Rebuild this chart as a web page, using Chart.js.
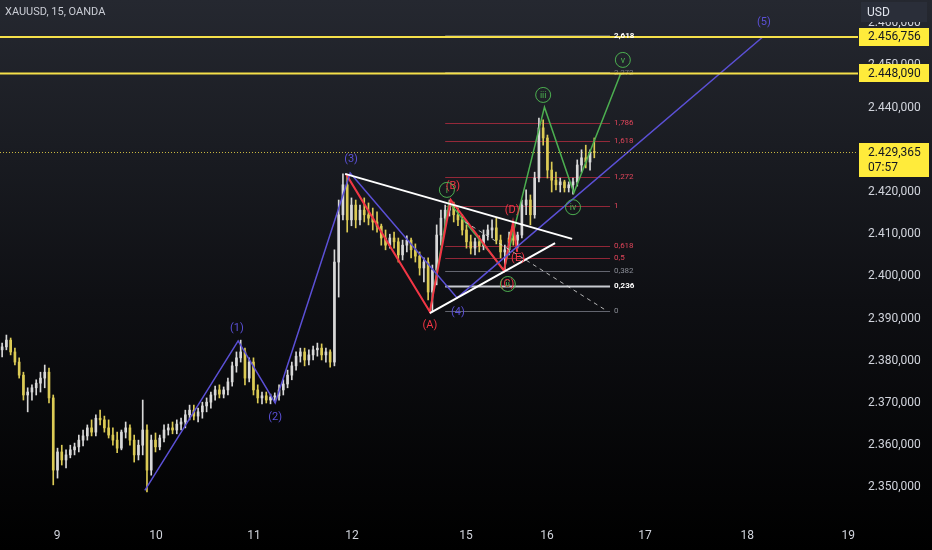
<!DOCTYPE html>
<html><head><meta charset="utf-8">
<script src="https://cdn.jsdelivr.net/npm/chart.js@4.4.1/dist/chart.umd.min.js"></script>
<style>html,body{margin:0;padding:0;background:#000;overflow:hidden}#wrap{width:932px;height:550px}</style>
</head><body><div id="wrap"><canvas id="c" width="932" height="550"></canvas></div>
<script>
// ---------- DATA ----------
const title = 'XAUUSD, 15, OANDA';
const currency = 'USD';
// x axis: hourly bar index; day labels positioned at the bar index where each day begins
const dayTickPos = [13.4, 36.6, 59.6, 82.6, 109.4, 128.4, 151.4, 175.4, 199.1];
const dayTickLabels = ['9', '10', '11', '12', '15', '16', '17', '18', '19'];
const yTickStep = 10;

const candleOpen = [2382.6,2383.3,2384.9,2382.1,2379.7,2376.6,2371.9,2372.6,2373.6,2374.7,2375.9,2377.3,2371.2,2354.1,2358.4,2356.5,2357.7,2358.9,2359.6,2361.2,2362.2,2364.1,2363.1,2366.4,2366.0,2364.1,2362.4,2361.2,2359.3,2363.1,2364.1,2361.2,2357.7,2360.0,2363.6,2354.1,2361.2,2359.6,2361.7,2363.6,2364.1,2363.6,2365.0,2365.5,2367.2,2368.3,2366.9,2367.9,2369.3,2370.2,2371.9,2373.1,2372.1,2373.1,2375.0,2378.8,2380.7,2382.1,2375.9,2379.7,2373.1,2371.2,2371.7,2370.7,2371.4,2371.7,2373.1,2374.5,2376.6,2378.8,2381.1,2382.1,2380.2,2381.4,2382.6,2383.0,2381.4,2382.1,2379.7,2403.4,2414.6,2421.7,2413.4,2416.9,2413.4,2415.7,2414.6,2413.8,2412.9,2411.9,2409.1,2407.4,2409.1,2408.2,2405.1,2407.4,2408.6,2406.3,2404.8,2402.0,2403.4,2396.3,2401.5,2409.8,2413.8,2415.7,2416.9,2414.6,2413.4,2411.0,2408.2,2406.7,2408.2,2407.2,2409.8,2411.0,2411.5,2408.6,2405.8,2406.3,2409.1,2408.6,2409.8,2416.9,2418.1,2414.6,2423.3,2435.2,2432.8,2425.2,2422.8,2421.7,2422.4,2421.0,2421.7,2422.4,2426.4,2428.1,2427.1,2429.5];
const candleHigh = [2384.2,2386.1,2385.4,2383.0,2380.7,2377.3,2373.6,2374.3,2375.5,2377.3,2379.0,2378.3,2371.9,2359.3,2360.0,2358.9,2360.0,2360.5,2362.4,2363.6,2364.8,2366.0,2367.2,2368.3,2366.9,2366.0,2364.1,2363.1,2363.6,2365.5,2364.8,2362.4,2361.2,2370.7,2364.8,2362.4,2362.9,2362.4,2364.8,2365.0,2365.5,2366.0,2366.4,2368.3,2369.5,2369.5,2368.8,2370.2,2371.2,2372.6,2374.0,2374.3,2373.8,2375.9,2379.7,2382.1,2384.9,2383.0,2380.7,2380.7,2374.3,2372.6,2372.6,2372.1,2372.4,2374.3,2375.5,2377.8,2379.7,2382.1,2383.0,2383.0,2382.6,2383.5,2384.2,2384.0,2383.0,2382.6,2406.3,2418.1,2424.3,2423.8,2418.6,2418.1,2416.9,2418.6,2417.4,2416.2,2415.3,2412.4,2411.0,2410.0,2410.5,2409.1,2408.6,2409.6,2409.1,2407.7,2405.8,2404.4,2404.4,2402.7,2412.2,2415.7,2416.9,2418.1,2417.6,2416.2,2414.6,2412.2,2409.8,2409.1,2409.6,2411.0,2412.2,2413.4,2413.8,2409.8,2407.4,2410.5,2412.9,2410.5,2418.1,2420.5,2419.3,2424.7,2437.5,2437.1,2433.5,2427.1,2424.7,2423.3,2422.8,2422.4,2423.3,2427.6,2430.0,2431.1,2430.0,2432.8];
const candleLow = [2380.9,2382.6,2381.4,2379.0,2375.9,2370.7,2367.9,2370.7,2371.9,2372.6,2373.6,2370.0,2350.6,2352.2,2355.3,2354.6,2357.0,2357.7,2358.4,2359.8,2361.2,2362.2,2362.2,2364.8,2363.1,2361.7,2360.0,2358.2,2358.9,2361.7,2360.0,2356.0,2356.5,2357.7,2348.9,2352.9,2358.4,2358.9,2360.8,2362.4,2362.7,2362.7,2363.6,2364.1,2366.0,2366.0,2365.5,2366.4,2367.9,2368.8,2370.7,2371.2,2371.2,2371.9,2374.0,2377.3,2379.7,2374.3,2375.0,2371.9,2370.0,2369.8,2370.0,2369.8,2370.2,2370.7,2371.9,2373.6,2375.5,2377.8,2379.7,2378.8,2379.0,2380.2,2381.1,2380.2,2379.7,2378.5,2378.8,2395.1,2413.4,2410.5,2412.0,2411.5,2412.2,2412.9,2412.2,2411.0,2410.5,2407.4,2406.3,2406.7,2406.7,2403.4,2403.9,2405.8,2404.4,2403.4,2400.3,2398.7,2394.4,2391.6,2398.0,2407.4,2411.5,2414.3,2412.9,2412.0,2409.8,2406.7,2405.3,2405.1,2405.8,2406.3,2408.6,2409.1,2407.7,2404.4,2401.5,2405.1,2407.4,2406.7,2409.1,2414.6,2412.2,2413.8,2422.4,2431.1,2423.3,2420.0,2420.5,2420.0,2420.0,2420.0,2419.5,2421.4,2424.7,2425.7,2425.2,2428.1];
const candleClose = [2383.3,2384.9,2382.1,2379.7,2376.6,2371.9,2372.6,2373.6,2374.7,2375.9,2377.3,2371.2,2354.1,2358.4,2356.5,2357.7,2358.9,2359.6,2361.2,2362.2,2364.1,2363.1,2366.4,2366.0,2364.1,2362.4,2361.2,2359.3,2363.1,2364.1,2361.2,2357.7,2360.0,2363.6,2354.1,2361.2,2359.6,2361.7,2363.6,2364.1,2363.6,2365.0,2365.5,2367.2,2368.3,2366.9,2367.9,2369.3,2370.2,2371.9,2373.1,2372.1,2373.1,2375.0,2378.8,2380.7,2382.1,2375.9,2379.7,2373.1,2371.2,2371.7,2370.7,2371.4,2371.7,2373.1,2374.5,2376.6,2378.8,2381.1,2382.1,2380.2,2381.4,2382.6,2383.0,2381.4,2382.1,2379.7,2403.4,2414.6,2421.7,2413.4,2416.9,2413.4,2415.7,2414.6,2413.8,2412.9,2411.9,2409.1,2407.4,2409.1,2408.2,2405.1,2407.4,2408.6,2406.3,2404.8,2402.0,2403.4,2396.3,2401.5,2409.8,2413.8,2415.7,2416.9,2414.6,2413.4,2411.0,2408.2,2406.7,2408.2,2407.2,2409.8,2411.0,2411.5,2408.6,2405.8,2406.3,2409.1,2408.6,2409.8,2416.9,2418.1,2414.6,2423.3,2435.2,2432.8,2425.2,2422.8,2421.7,2422.4,2421.0,2421.7,2422.4,2426.4,2428.1,2427.1,2429.5,2429.365];

// horizontal price levels and last price
const hLevels = [2456.756, 2448.090];
const lastPrice = 2429.365;
const countdown = '07:57';

// Fibonacci retracement (0 = A low, 1 = B high)
const fibLow = 2391.87, fibHigh = 2416.75;
const fibLevels = [0, 0.236, 0.382, 0.5, 0.618, 1, 1.272, 1.618, 1.786, 2.272, 2.618];
const fibStartX = 104.5, fibEndX = 143.2;

// wave drawings: [barIndex, price]
const wavePurple = [[34.0,2349.3],[55.9,2384.7],[64.6,2370.0],[82.2,2424.5],[107.3,2394.9],[179.1,2456.8]];
const waveRed = [[81.2,2424.3],[100.9,2391.6],[105.8,2418.1],[118.3,2401.3],[120.4,2412.7],[121.4,2405.8]];
const waveGreen = [[100.9,2391.6],[105.4,2417.6],[118.3,2401.5],[127.8,2440.1],[134.7,2419.8],[145.7,2448.1]];
const waveOrange = [[119.4,2408.2],[120.5,2412.4]];
const triUpper = [[81.0,2424.3],[134.3,2408.9]];
const triLower = [[100.9,2391.3],[130.3,2407.9]];
const dashLine = [[109.2,2412.9],[142.5,2391.8]];

const purpleLabels = [['(1)',55.6,2387.8],['(2)',64.6,2366.7],['(3)',82.4,2427.8],['(4)',107.5,2391.6],['(5)',179.3,2460.3]];
const redLabels = [['(A)',100.9,2388.5],['(B)',106.3,2421.4],['(C)',119.0,2398.2],['(D)',120.2,2415.7],['(E)',121.6,2404.4]];
const greenLabels = [['i',104.9,2420.5],['ii',119.2,2398.2],['iii',127.5,2443.0],['iv',134.5,2416.4],['v',146.2,2451.3]];

// ---------- STYLE ----------
const UP = '#d8d8d8', DOWN = '#dccb55';
const PURPLE = '#5b50d6', RED = '#f23645', GREEN = '#4caf50', YELLOW = '#f5e04a';
const FONT = 'Roboto, "Liberation Sans", sans-serif';

function fmt(v, d) {
  const s = v.toFixed(d);
  const parts = s.split('.');
  return parts[0].replace(/\B(?=(\d{3})+(?!\d))/g, '.') + (parts[1] ? ',' + parts[1] : '');
}
function fibText(l) { return String(l).replace('.', ','); }
const toPts = arr => arr.map(p => ({x: p[0], y: p[1]}));
const isUp = i => candleClose[i] >= candleOpen[i];

const xs = candleOpen.map((_, i) => i + 0.5);
const wickData = xs.map((x, i) => ({x, y: [candleLow[i], candleHigh[i]]}));
const bodyData = xs.map((x, i) => ({x, y: [candleOpen[i], candleClose[i]]}));

function lineDs(arr, color, width, dash) {
  return {type: 'line', data: toPts(arr), borderColor: color, borderWidth: width, borderDash: dash || [],
    pointRadius: 0, tension: 0, order: 1, fill: false};
}

const bgPlugin = {
  id: 'bg',
  beforeDraw(chart) {
    const c = chart.ctx;
    const g = c.createLinearGradient(0, 0, 0, chart.height);
    g.addColorStop(0, '#252830');
    g.addColorStop(0.55, '#0e0f13');
    g.addColorStop(1, '#000000');
    c.save(); c.fillStyle = g; c.fillRect(0, 0, chart.width, chart.height); c.restore();
  }
};

function fibStyle(l) {
  if (l === 0.236) return {line: '#c8cad0', w: 2, text: '#ffffff', bold: true};
  if (l === 0.382 || l === 0) return {line: 'rgba(120,123,134,0.8)', w: 1, text: '#8a8d96', bold: false};
  if (l === 2.618) return {line: '#ffffff', w: 1.5, text: '#ffffff', bold: true};
  if (l === 2.272) return {line: 'rgba(120,123,134,0.8)', w: 1, text: '#787b86', bold: false};
  return {line: 'rgba(190,45,65,0.75)', w: 1, text: '#e0455a', bold: false};
}

const drawPlugin = {
  id: 'drawings',
  beforeDatasetsDraw(chart) {
    const c = chart.ctx, X = chart.scales.x, Y = chart.scales.y;
    c.save();
    const x0 = X.getPixelForValue(fibStartX), x1 = X.getPixelForValue(fibEndX);
    fibLevels.forEach(l => {
      const st = fibStyle(l);
      const y = Math.round(Y.getPixelForValue(fibLow + l * (fibHigh - fibLow))) + 0.5;
      c.strokeStyle = st.line; c.lineWidth = st.w;
      c.beginPath(); c.moveTo(x0, y); c.lineTo(x1, y); c.stroke();
      if (l === 2.272) {
        c.fillStyle = st.text; c.font = '8px ' + FONT; c.textBaseline = 'middle'; c.textAlign = 'left';
        c.fillText(fibText(l), x1 + 4, y);
      }
    });
    c.restore();
  },
  afterDatasetsDraw(chart) {
    const c = chart.ctx, X = chart.scales.x, Y = chart.scales.y, a = chart.chartArea;
    c.save();
    hLevels.forEach(v => {
      const y = Y.getPixelForValue(v);
      c.strokeStyle = YELLOW; c.lineWidth = 2;
      c.beginPath(); c.moveTo(a.left, y); c.lineTo(a.right, y); c.stroke();
    });
    const yl = Math.round(Y.getPixelForValue(lastPrice)) + 0.5;
    c.strokeStyle = 'rgba(245,224,74,0.8)'; c.lineWidth = 1; c.setLineDash([1, 2]);
    c.beginPath(); c.moveTo(a.left, yl); c.lineTo(a.right, yl); c.stroke();
    c.setLineDash([]);
    const x1 = X.getPixelForValue(fibEndX);
    fibLevels.forEach(l => {
      if (l === 2.272) return;
      const st = fibStyle(l);
      const y = Y.getPixelForValue(fibLow + l * (fibHigh - fibLow));
      c.fillStyle = st.text; c.font = (st.bold ? 'bold ' : '') + '8px ' + FONT;
      c.textBaseline = 'middle'; c.textAlign = 'left';
      c.fillText(fibText(l), x1 + 4, y);
    });
    c.textAlign = 'center'; c.textBaseline = 'middle';
    c.font = '11px ' + FONT;
    c.fillStyle = PURPLE;
    purpleLabels.forEach(p => c.fillText(p[0], X.getPixelForValue(p[1]), Y.getPixelForValue(p[2])));
    c.fillStyle = RED;
    redLabels.forEach(p => c.fillText(p[0], X.getPixelForValue(p[1]), Y.getPixelForValue(p[2])));
    greenLabels.forEach(p => {
      const px = X.getPixelForValue(p[1]), py = Y.getPixelForValue(p[2]);
      c.strokeStyle = GREEN; c.lineWidth = 1;
      c.beginPath(); c.arc(px, py, 7.5, 0, Math.PI * 2); c.stroke();
      c.fillStyle = GREEN; c.font = '9px ' + FONT;
      c.fillText(p[0], px, py + 0.5);
    });
    c.restore();
  },
  afterDraw(chart) {
    const c = chart.ctx, Y = chart.scales.y, a = chart.chartArea;
    c.save();
    c.font = '12px ' + FONT; c.textBaseline = 'middle'; c.textAlign = 'left';
    hLevels.forEach(v => {
      const y = Y.getPixelForValue(v);
      c.fillStyle = '#ffeb3b';
      c.fillRect(a.right + 1, Math.round(y) - 9, 70, 18);
      c.fillStyle = '#131722';
      c.fillText(fmt(v, 3), a.right + 10, y + 0.5);
    });
    const yl = Y.getPixelForValue(lastPrice);
    c.fillStyle = '#ffeb3b';
    c.fillRect(a.right + 1, Math.round(yl) - 9, 70, 34);
    c.fillStyle = '#131722';
    c.fillText(fmt(lastPrice, 3), a.right + 10, yl + 0.5);
    c.fillText(countdown, a.right + 10, yl + 15.5);
    c.fillStyle = '#2a2e39';
    c.fillRect(a.right + 3, 2, 66, 20);
    c.fillStyle = '#e0e3eb';
    c.fillText(currency, a.right + 9, 12.5);
    c.font = '11px ' + FONT; c.fillStyle = '#c9ccd4';
    c.fillText(title, 5, 12.5);
    c.restore();
  }
};

new Chart(document.getElementById('c'), {
  type: 'bar',
  data: {
    datasets: [
      lineDs(triUpper, '#ffffff', 2),
      lineDs(triLower, '#ffffff', 2),
      lineDs(dashLine, 'rgba(220,220,220,0.8)', 1, [4, 4]),
      lineDs(wavePurple, PURPLE, 1.5),
      lineDs(waveRed, RED, 2),
      lineDs(waveOrange, '#ff9800', 2),
      lineDs(waveGreen, GREEN, 1.5),
      {type: 'bar', data: wickData, barThickness: 1, grouped: false, order: 20,
        backgroundColor: ctx => isUp(ctx.dataIndex) ? UP : DOWN},
      {type: 'bar', data: bodyData, barThickness: 2, minBarLength: 1, grouped: false, order: 19,
        backgroundColor: ctx => isUp(ctx.dataIndex) ? UP : DOWN}
    ]
  },
  options: {
    responsive: false, animation: false, devicePixelRatio: 1,
    layout: {padding: 0},
    plugins: {legend: {display: false}, tooltip: {enabled: false}},
    scales: {
      x: {type: 'linear', min: 0, max: 201.4, offset: false,
        grid: {display: false, drawTicks: false}, border: {display: false},
        ticks: {color: '#d1d4dc', font: {size: 12, family: FONT}, padding: 7, autoSkip: false, maxRotation: 0,
          callback: (v, i) => dayTickLabels[i]},
        afterBuildTicks: s => { s.ticks = dayTickPos.map(v => ({value: v})); },
        afterFit: s => { s.height = 28; s.paddingLeft = 0; s.paddingRight = 0; }},
      y: {type: 'linear', position: 'right', min: 2341.8, max: 2465.5,
        grid: {display: false, drawTicks: false}, border: {display: false},
        ticks: {stepSize: yTickStep, includeBounds: false, color: '#d1d4dc', font: {size: 12, family: FONT}, padding: 10,
          callback: v => fmt(v, 3)},
        afterFit: s => { s.width = 74; s.paddingTop = 0; s.paddingBottom = 0; }}
    }
  },
  plugins: [bgPlugin, drawPlugin]
});
</script>
</body></html>
